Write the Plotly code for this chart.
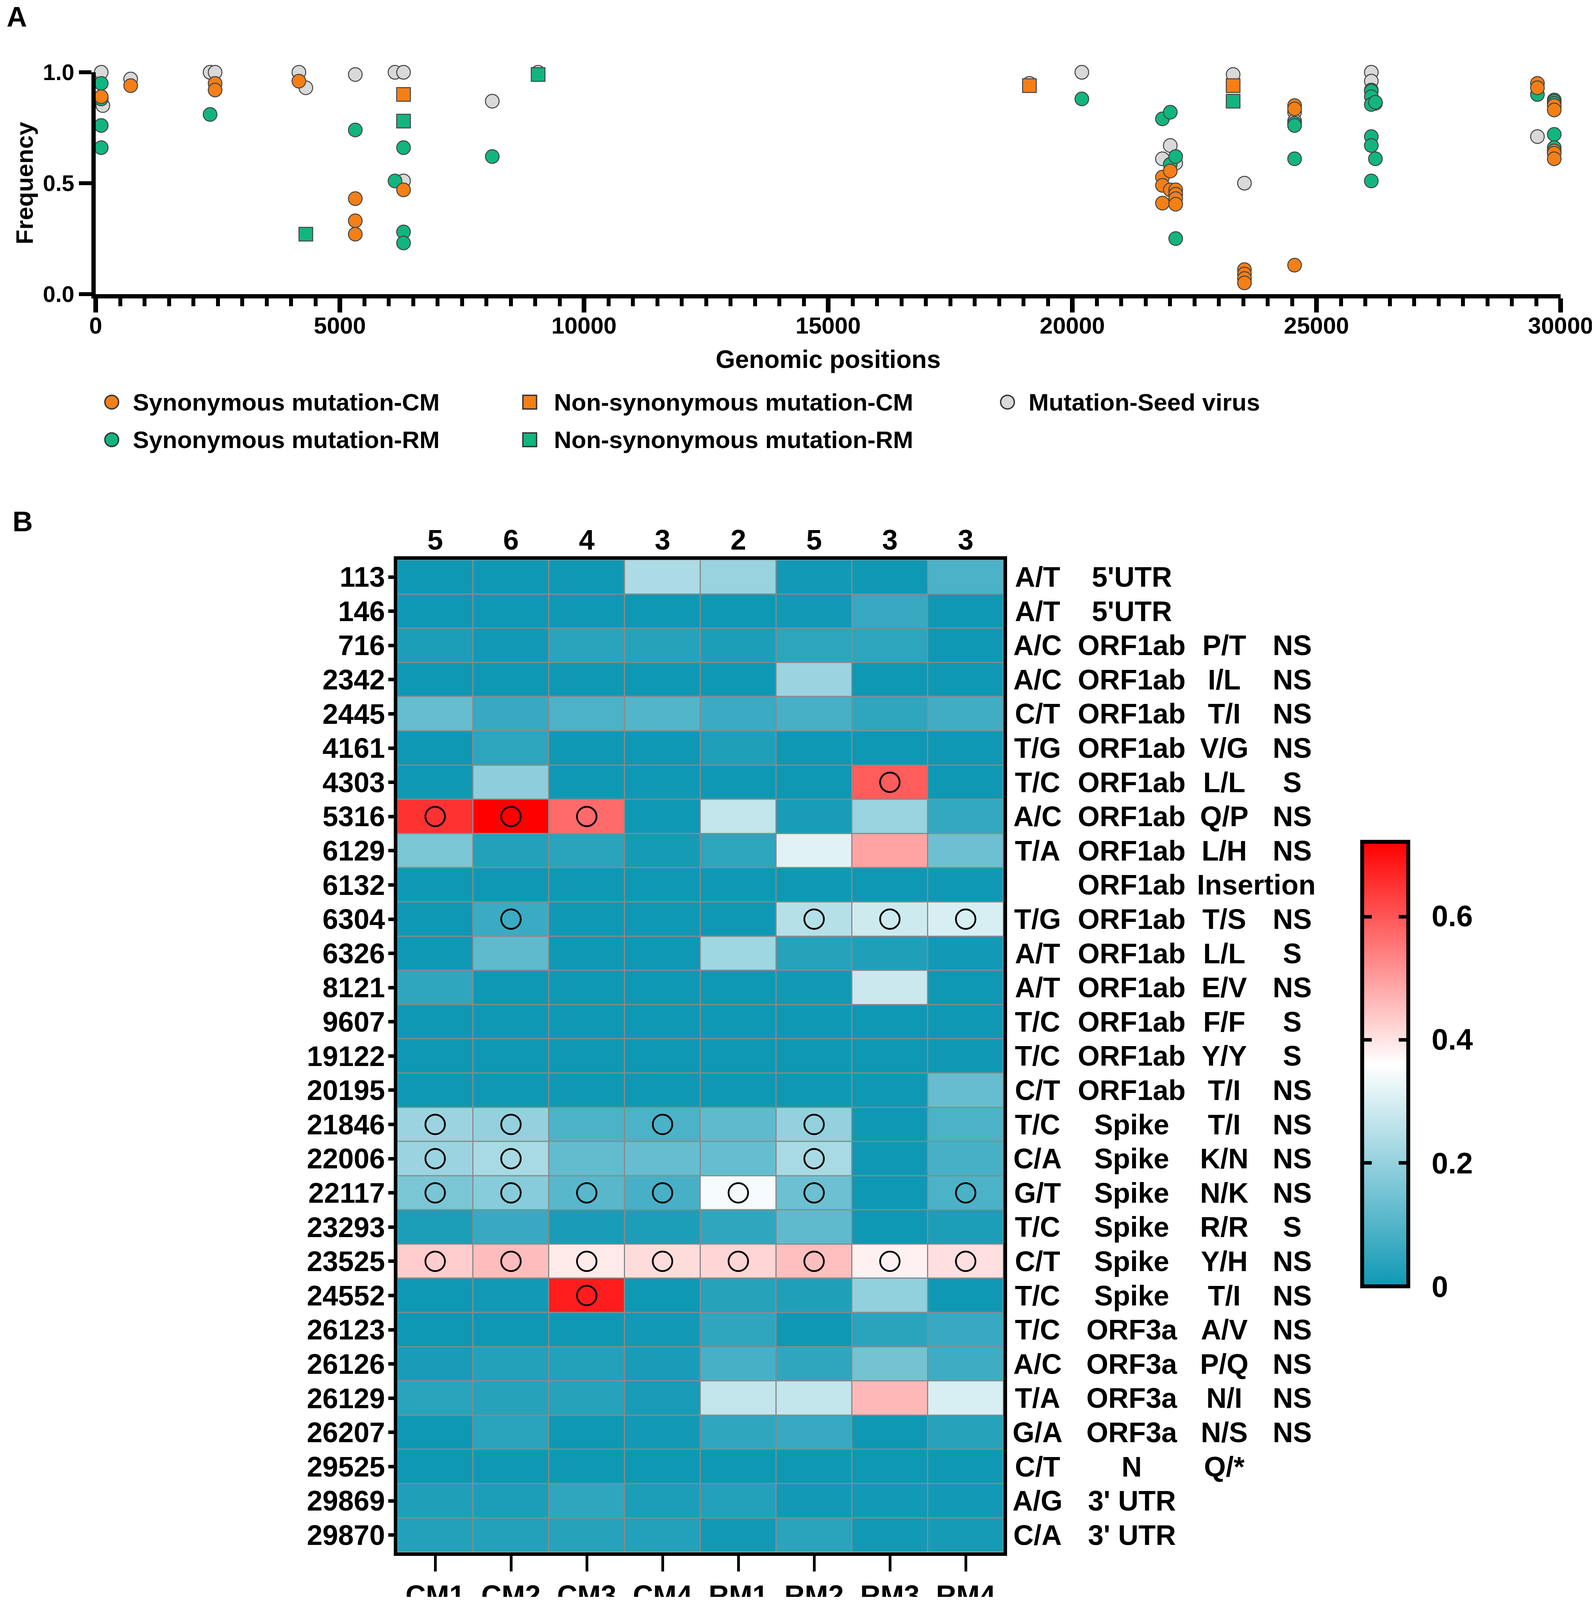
"""
Mutation frequency along the genome (A) and per-animal heatmap of the variant sites (B).
"""

import plotly.graph_objects as go

W = 4083
H = 4381
# the browser caps the window height at 4096, so the layout is squeezed to fit it
VIEW_H = 4096
Y_SCALE = VIEW_H / H
# the page body keeps its default 8 px margin
BODY = 8
FONT = "Liberation Sans"
ORANGE = "#F57F17"
GREEN = "#12B57F"
GREY = "#D9D9D9"
TEAL = "#0F98B4"

# ── Panel A values ───────────────────────────────────────────────────────────
seed_pos = [113, 146, 716, 2342, 2445, 4161, 4303, 5316, 6129, 6304, 6304, 8121, 9060,
            19122, 20195, 21846, 22006, 22117, 23293, 23525, 24552, 24552, 26123, 26123,
            26207, 29525]
seed_freq = [1.0, 0.85, 0.97, 1.0, 1.0, 1.0, 0.93, 0.99, 1.0, 1.0, 0.51, 0.87, 1.0,
             0.95, 1.0, 0.61, 0.67, 0.59, 0.99, 0.50, 0.82, 0.78, 1.0, 0.96,
             0.86, 0.71]

syn_rm_pos = [113, 113, 113, 113, 2342, 5316, 6129, 6304, 6304, 6304, 8121, 20195,
              21846, 22006, 22006, 22117, 22117, 24552, 24552, 24552,
              26123, 26123, 26123, 26123, 26123, 26123, 26123, 26207, 26207,
              29525, 29869, 29869, 29869, 29869, 29869]
syn_rm_freq = [0.95, 0.88, 0.76, 0.66, 0.81, 0.74, 0.51, 0.66, 0.28, 0.23, 0.62, 0.88,
               0.79, 0.82, 0.585, 0.62, 0.25, 0.77, 0.76, 0.61,
               0.92, 0.915, 0.89, 0.855, 0.71, 0.67, 0.51, 0.865, 0.61,
               0.90, 0.875, 0.87, 0.86, 0.72, 0.66]

nonsyn_rm_pos = [4303, 6304, 9060, 23293]
nonsyn_rm_freq = [0.27, 0.78, 0.99, 0.87]

syn_cm_pos = [113, 716, 2445, 2445, 4161, 5316, 5316, 5316, 6304,
              21846, 21846, 21846, 22006, 22006, 22117, 22117, 22117, 22117,
              23525, 23525, 23525, 23525, 24552, 24552, 24552,
              29525, 29525, 29869, 29869, 29869, 29869, 29869]
syn_cm_freq = [0.89, 0.94, 0.95, 0.92, 0.96, 0.43, 0.33, 0.27, 0.47,
               0.527, 0.49, 0.41, 0.555, 0.47, 0.47, 0.45, 0.43, 0.405,
               0.11, 0.09, 0.07, 0.05, 0.85, 0.835, 0.13,
               0.95, 0.93, 0.85, 0.83, 0.645, 0.635, 0.61]

nonsyn_cm_pos = [6304, 19122, 23293]
nonsyn_cm_freq = [0.90, 0.94, 0.94]

# ── Panel B values ───────────────────────────────────────────────────────────
animals = ["CM1", "CM2", "CM3", "CM4", "RM1", "RM2", "RM3", "RM4"]
counts = [5, 6, 4, 3, 2, 5, 3, 3]
sites = ["113", "146", "716", "2342", "2445", "4161", "4303", "5316", "6129", "6132",
         "6304", "6326", "8121", "9607", "19122", "20195", "21846", "22006", "22117",
         "23293", "23525", "24552", "26123", "26126", "26129", "26207", "29525", "29869",
         "29870"]
freq = [
    [0.0, 0.0, 0.0, 0.235, 0.205, 0.005, 0.0, 0.09],
    [0.0, 0.0, 0.0, 0.0, 0.0, 0.005, 0.06, 0.0],
    [0.02, 0.005, 0.04, 0.035, 0.02, 0.045, 0.045, 0.0],
    [0.0, 0.0, 0.0, 0.0, 0.0, 0.21, 0.0, 0.0],
    [0.13, 0.06, 0.09, 0.10, 0.065, 0.085, 0.05, 0.075],
    [0.0, 0.045, 0.0, 0.0, 0.025, 0.0, 0.0, 0.0],
    [0.0, 0.19, 0.0, 0.0, 0.0, 0.0, 0.59, 0.0],
    [0.65, 0.72, 0.57, 0.0, 0.27, 0.015, 0.205, 0.055],
    [0.16, 0.03, 0.04, 0.01, 0.045, 0.315, 0.49, 0.14],
    [0.0, 0.0, 0.0, 0.0, 0.0, 0.0, 0.0, 0.0],
    [0.0, 0.065, 0.0, 0.0, 0.0, 0.25, 0.285, 0.30],
    [0.0, 0.12, 0.0, 0.0, 0.215, 0.035, 0.025, 0.005],
    [0.05, 0.0, 0.0, 0.0, 0.0, 0.005, 0.28, 0.0],
    [0.0, 0.0, 0.0, 0.0, 0.0, 0.0, 0.0, 0.0],
    [0.0, 0.0, 0.0, 0.0, 0.0, 0.0, 0.0, 0.0],
    [0.0, 0.0, 0.0, 0.0, 0.0, 0.0, 0.0, 0.13],
    [0.21, 0.20, 0.09, 0.09, 0.12, 0.20, 0.0, 0.09],
    [0.21, 0.23, 0.125, 0.13, 0.13, 0.23, 0.0, 0.085],
    [0.16, 0.18, 0.11, 0.085, 0.345, 0.14, 0.0, 0.09],
    [0.02, 0.06, 0.015, 0.02, 0.05, 0.12, 0.0, 0.02],
    [0.43, 0.455, 0.39, 0.41, 0.42, 0.45, 0.38, 0.405],
    [0.0, 0.005, 0.68, 0.0, 0.035, 0.025, 0.195, 0.0],
    [0.0, 0.0, 0.0, 0.005, 0.05, 0.0, 0.04, 0.06],
    [0.015, 0.03, 0.03, 0.015, 0.085, 0.05, 0.15, 0.07],
    [0.04, 0.035, 0.035, 0.015, 0.27, 0.27, 0.46, 0.30],
    [0.0, 0.04, 0.0, 0.005, 0.05, 0.06, 0.0, 0.035],
    [0.0, 0.0, 0.0, 0.0, 0.0, 0.0, 0.0, 0.0],
    [0.025, 0.02, 0.05, 0.02, 0.03, 0.005, 0.005, 0.005],
    [0.03, 0.03, 0.035, 0.03, 0.005, 0.04, 0.005, 0.01],
]
circle_sites = ["4303", "5316", "5316", "5316", "6304", "6304", "6304", "6304",
                "21846", "21846", "21846", "21846",
                "22006", "22006", "22006",
                "22117", "22117", "22117", "22117", "22117", "22117", "22117",
                "23525", "23525", "23525", "23525", "23525", "23525", "23525", "23525",
                "24552"]
circle_animals = ["RM3", "CM1", "CM2", "CM3", "CM2", "RM2", "RM3", "RM4",
                  "CM1", "CM2", "CM4", "RM2",
                  "CM1", "CM2", "RM2",
                  "CM1", "CM2", "CM3", "CM4", "RM1", "RM2", "RM4",
                  "CM1", "CM2", "CM3", "CM4", "RM1", "RM2", "RM3", "RM4",
                  "CM3"]
nucleotide = ["A/T", "A/T", "A/C", "A/C", "C/T", "T/G", "T/C", "A/C", "T/A", "", "T/G", "A/T",
              "A/T", "T/C", "T/C", "C/T", "T/C", "C/A", "G/T", "T/C", "C/T", "T/C", "T/C",
              "A/C", "T/A", "G/A", "C/T", "A/G", "C/A"]
gene = ["5'UTR", "5'UTR"] + ["ORF1ab"] * 14 + ["Spike"] * 6 + ["ORF3a"] * 4 + ["N", "3' UTR", "3' UTR"]
amino = ["", "", "P/T", "I/L", "T/I", "V/G", "L/L", "Q/P", "L/H", "", "T/S", "L/L", "E/V", "F/F",
         "Y/Y", "T/I", "T/I", "K/N", "N/K", "R/R", "Y/H", "T/I", "A/V", "P/Q", "N/I", "N/S", "Q/*",
         "", ""]
effect = ["", "", "NS", "NS", "NS", "NS", "S", "NS", "NS", "", "NS", "S", "NS", "S", "S", "NS",
          "NS", "NS", "NS", "S", "NS", "NS", "NS", "NS", "NS", "NS", "", "", ""]

# Legend entries (colour, symbol, label)
legend_x = [286, 286, 1356, 1356, 2579]
legend_y = [1101, 1204, 1101, 1204, 1101]
legend_text_x = [338, 338, 1416, 1416, 2631]
legend_symbols = ["circle", "circle", "square", "square", "circle"]
legend_colors = [ORANGE, GREEN, ORANGE, GREEN, GREY]
legend_labels = ["Synonymous mutation-CM", "Synonymous mutation-RM", "Non-synonymous mutation-CM",
                 "Non-synonymous mutation-RM", "Mutation-Seed virus"]


def xfrac(px):
    return (px - BODY) / (W - 2 * BODY)


def yfrac(px):
    return 1 - (px * Y_SCALE - BODY) / (VIEW_H - 2 * BODY)


def points(x, y, color, symbol, size=35):
    return go.Scatter(
        x=x, y=y, mode="markers", xaxis="x", yaxis="y", cliponaxis=False, showlegend=False,
        marker=dict(color=color, symbol=symbol, size=size, line=dict(color="#444444", width=2.5)),
    )


fig = go.Figure()

# ── A. Frequency along the genome ────────────────────────────────────────────
fig.add_trace(points(seed_pos, seed_freq, GREY, "circle"))
fig.add_trace(points(syn_rm_pos, syn_rm_freq, GREEN, "circle"))
fig.add_trace(points(nonsyn_rm_pos, nonsyn_rm_freq, GREEN, "square"))
fig.add_trace(points(syn_cm_pos, syn_cm_freq, ORANGE, "circle"))
fig.add_trace(points(nonsyn_cm_pos, nonsyn_cm_freq, ORANGE, "square"))

# ── B. Heatmap ───────────────────────────────────────────────────────────────
fig.add_trace(go.Heatmap(
    z=freq, x=animals, y=sites, xaxis="x2", yaxis="y2",
    zmin=0, zmax=0.72, xgap=3, ygap=3,
    colorscale=[[0, TEAL], [0.5, "#FFFFFF"], [1, "#FF0000"]],
    colorbar=dict(
        thicknessmode="pixels", thickness=118, lenmode="pixels", len=1217 * Y_SCALE,
        x=xfrac(3487), xanchor="left", y=yfrac(2305), yanchor="top", xpad=0, ypad=0,
        outlinecolor="black", outlinewidth=10, borderwidth=0,
        tickvals=[0, 0.2, 0.4, 0.6], ticktext=["0", "0.2", "0.4", "0.6"],
        ticks="outside", ticklen=40, tickwidth=1, tickcolor="rgba(0,0,0,0)",
        tickfont=dict(family=FONT, size=76, color="black", weight="bold"),
    ),
))
fig.add_trace(go.Scatter(
    x=circle_animals, y=circle_sites, mode="markers", xaxis="x2", yaxis="y2", showlegend=False,
    marker=dict(symbol="circle-open", size=50, color="black", line=dict(color="black", width=4.5)),
))

# Legend keys sit on a hidden pixel-sized axis pair
fig.add_trace(go.Scatter(
    x=legend_x, y=legend_y, mode="markers", xaxis="x3", yaxis="y3", showlegend=False,
    marker=dict(symbol=legend_symbols, size=35, color=legend_colors,
                line=dict(color="#333333", width=3.5)),
))

bold = dict(family=FONT, color="black", weight="bold")
annotations = []


def label(text, x, y, size, xref="paper", yref="paper", xanchor="center"):
    annotations.append(dict(
        text=text, x=x, y=y, xref=xref, yref=yref, xanchor=xanchor, yanchor="middle",
        showarrow=False, font=dict(size=size, **bold),
    ))


label("A", xfrac(15), yfrac(46), 72, xanchor="left")
label("B", xfrac(30), yfrac(1428), 72, xanchor="left")
for lx, ly, txt in zip(legend_text_x, legend_y, legend_labels):
    label(txt, xfrac(lx), yfrac(ly), 62, xanchor="left")
for col, n in enumerate(counts):
    label(str(n), col, yfrac(1478), 72, xref="x2")
for i in range(len(sites)):
    if nucleotide[i]:
        label(nucleotide[i], xfrac(2656), i, 72, yref="y2")
    label(gene[i], xfrac(2897), i, 72, yref="y2")
    if amino[i]:
        label(amino[i], xfrac(3134), i, 72, yref="y2")
    if effect[i]:
        label(effect[i], xfrac(3308), i, 72, yref="y2")
label("Insertion", xfrac(3216), sites.index("6132"), 72, yref="y2")

# inner ticks of the colour bar, which has no such option of its own
for py in (2510, 2847, 3184):
    for px in (3501, 3591):
        annotations.append(dict(
            text=" ", x=xfrac(px), y=yfrac(py), xref="paper", yref="paper", showarrow=False,
            xanchor="center", yanchor="middle", width=20, height=8, bgcolor="black",
            font=dict(size=4), borderpad=0,
        ))

fig.update_layout(
    width=W - 2 * BODY, height=VIEW_H - 2 * BODY, autosize=False,
    margin=dict(l=0, r=0, t=0, b=0, pad=0, autoexpand=False),
    paper_bgcolor="white", plot_bgcolor="rgba(0,0,0,0)",
    showlegend=False,
    annotations=annotations,
    xaxis=dict(
        domain=[xfrac(245), xfrac(3995)], range=[0, 30000], anchor="y",
        tick0=0, dtick=5000, tickformat="d", ticks="outside", ticklen=36, tickwidth=12, tickcolor="black",
        showline=True, linecolor="black", linewidth=11, showgrid=False, zeroline=False,
        minor=dict(dtick=500, ticks="outside", ticklen=20, tickwidth=10, tickcolor="black", showgrid=False),
        tickfont=dict(size=60, **bold), ticklabeloverflow="allow", ticklabelstandoff=-18,
        title=dict(text="Genomic positions", font=dict(size=64, **bold), standoff=36),
    ),
    yaxis=dict(
        domain=[yfrac(805), yfrac(198)], range=[0, 1], anchor="x",
        tick0=0, dtick=0.5, tickformat=".1f", ticks="outside", ticklen=32, tickwidth=10, tickcolor="black",
        showline=True, linecolor="black", linewidth=11, showgrid=False, zeroline=False,
        tickfont=dict(size=58, **bold),
        title=dict(text="Frequency", font=dict(size=62, **bold), standoff=10),
    ),
    xaxis2=dict(
        domain=[xfrac(1017), xfrac(2569)], anchor="y2", type="category",
        categoryorder="array", categoryarray=animals, range=[-0.5, 7.5],
        ticks="outside", ticklen=40, tickwidth=7, tickcolor="black",
        showline=True, mirror=True, linecolor="black", linewidth=9, showgrid=False, zeroline=False,
        tickfont=dict(size=72, **bold),
    ),
    yaxis2=dict(
        domain=[yfrac(4250), yfrac(1533)], anchor="x2", type="category",
        categoryorder="array", categoryarray=sites, range=[28.5, -0.5],
        ticks="outside", ticklen=14, tickwidth=9, tickcolor="black", ticklabelstandoff=-6,
        showline=True, mirror=True, linecolor="black", linewidth=9, showgrid=False, zeroline=False,
        tickfont=dict(size=72, **bold),
    ),
    xaxis3=dict(domain=[0, 1], range=[BODY, W - BODY], anchor="y3", visible=False),
    yaxis3=dict(domain=[0, 1], range=[(VIEW_H - BODY) / Y_SCALE, BODY / Y_SCALE], anchor="x3", visible=False),
    shapes=[
        dict(type="rect", xref="x2 domain", yref="y2 domain", x0=0, x1=1, y0=0, y1=1,
             fillcolor="#8A8A8A", line_width=0, layer="below"),
    ],
)

fig.write_html("out.html")
